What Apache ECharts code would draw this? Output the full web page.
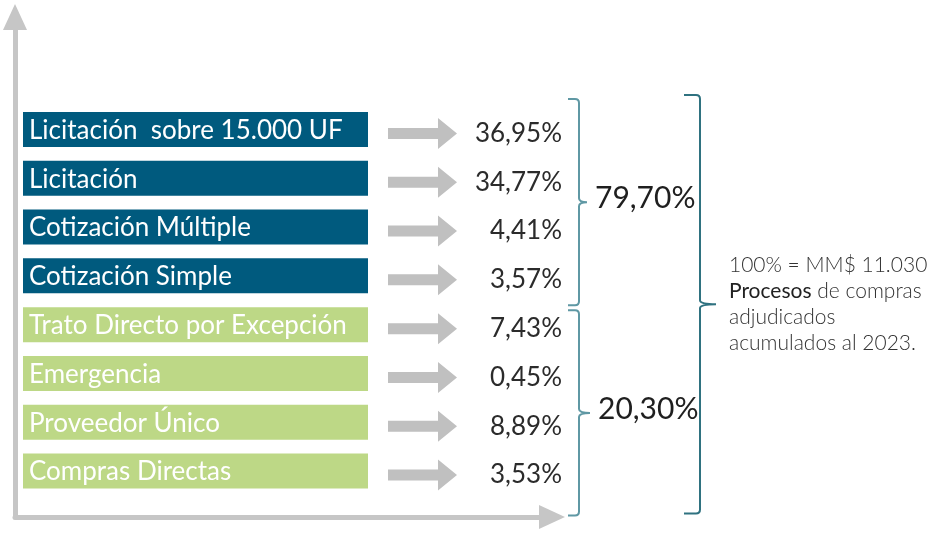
<!DOCTYPE html>
<html>
<head>
<meta charset="utf-8">
<script src="https://cdn.jsdelivr.net/npm/echarts@6/dist/echarts.min.js"></script>
<style>
  html, body { margin: 0; padding: 0; background: #fff; }
  #chart { width: 937px; height: 533px; }
</style>
</head>
<body>
<div id="chart"></div>
<script>
// data
const categories = [
    'Licitación  sobre 15.000 UF',
    'Licitación',
    'Cotización Múltiple',
    'Cotización Simple',
    'Trato Directo por Excepción',
    'Emergencia',
    'Proveedor Único',
    'Compras Directas'
];
const shares = [36.95, 34.77, 4.41, 3.57, 7.43, 0.45, 8.89, 3.53];
const groupOf = [0, 0, 0, 0, 1, 1, 1, 1];
const groupFirst = [0, 4];
const groupLast = [3, 7];
const groupTotals = [79.70, 20.30];
const noteLines = ['100% = MM$ 11.030', '{b|Procesos} de compras', 'adjudicados', 'acumulados al 2023.'];

// styles
const boxColors = ['#005a7e', '#bdd886'];
const arrowColor = '#c0c0c0';
const axisColor = '#c6c6c6';
const textColor = '#2b2b2b';
const bracePad = [[6, 5], [-10, 20]];

function pct(v) {
    return v.toFixed(2).replace('.', ',') + '%';
}

function bracePath(x0, xv, xt, top, bottom) {
    const mid = (top + bottom) / 2, r = 4;
    return 'M' + x0 + ' ' + top +
        ' L' + (xv - r) + ' ' + top +
        ' Q' + xv + ' ' + top + ' ' + xv + ' ' + (top + r) +
        ' L' + xv + ' ' + (mid - r) +
        ' Q' + xv + ' ' + mid + ' ' + xt + ' ' + mid +
        ' Q' + xv + ' ' + mid + ' ' + xv + ' ' + (mid + r) +
        ' L' + xv + ' ' + (bottom - r) +
        ' Q' + xv + ' ' + bottom + ' ' + (xv - r) + ' ' + bottom +
        ' L' + x0 + ' ' + bottom;
}

function renderRow(params, api) {
    const i = params.dataIndex;
    const cy = api.coord([0, api.value(1)])[1];
    const ay = cy + 4;
    const g = groupOf[i];
    return {
        type: 'group',
        children: [
            {
                type: 'rect',
                shape: { x: 23, y: cy - 17.5, width: 345, height: 35 },
                style: { fill: boxColors[g] }
            },
            {
                type: 'text',
                style: {
                    x: 29, y: cy + 1,
                    text: categories[i],
                    fill: '#fff',
                    font: '26px Lato',
                    verticalAlign: 'middle'
                }
            },
            {
                type: 'polygon',
                shape: {
                    points: [
                        [388, ay - 5.5], [438, ay - 5.5], [438, ay - 15.5], [457, ay],
                        [438, ay + 15.5], [438, ay + 5.5], [388, ay + 5.5]
                    ]
                },
                style: { fill: arrowColor }
            },
            {
                type: 'text',
                style: {
                    x: 562, y: ay,
                    text: pct(api.value(0)),
                    fill: textColor,
                    font: '26px Lato',
                    align: 'right',
                    verticalAlign: 'middle'
                }
            }
        ]
    };
}

function renderGroupBrace(params, api) {
    const i = params.dataIndex;
    const half = api.size([0, 1])[1] / 2;
    const top = api.coord([0, api.value(1)])[1] - half - bracePad[i][0];
    const bottom = api.coord([0, api.value(2)])[1] + half + bracePad[i][1];
    const mid = (top + bottom) / 2;
    const xt = 587 + i * 3;
    return {
        type: 'group',
        children: [
            {
                type: 'path',
                shape: { pathData: bracePath(568, 579, xt, top, bottom) },
                style: { fill: 'none', stroke: '#5f98a4', lineWidth: 2 }
            },
            {
                type: 'text',
                style: {
                    x: xt + 8, y: mid - 4,
                    text: pct(api.value(0)),
                    fill: '#1f1f1f',
                    font: '30px Lato',
                    verticalAlign: 'middle'
                }
            }
        ]
    };
}

function renderTotalBrace(params, api) {
    const half = api.size([0, 1])[1] / 2;
    const top = api.coord([0, api.value(1)])[1] - half - 10;
    const bottom = api.coord([0, api.value(2)])[1] + half + 18;
    const mid = (top + bottom) / 2;
    return {
        type: 'group',
        children: [
            {
                type: 'path',
                shape: { pathData: bracePath(684, 700, 716, top, bottom) },
                style: { fill: 'none', stroke: '#2f7280', lineWidth: 2 }
            },
            {
                type: 'text',
                style: {
                    x: 729, y: mid,
                    text: noteLines.join('\n'),
                    fill: '#333',
                    fontFamily: 'Lato',
                    fontSize: 21,
                    fontWeight: 300,
                    lineHeight: 26,
                    verticalAlign: 'middle',
                    rich: {
                        b: { fontFamily: 'Lato', fontSize: 21, fontWeight: 'normal', fill: '#222', lineHeight: 26 }
                    }
                }
            }
        ]
    };
}

const chart = echarts.init(document.getElementById('chart'));

const hiddenAxis = {
    axisTick: { show: false },
    axisLabel: { show: false },
    splitLine: { show: false }
};
const frameLine = {
    show: true,
    symbol: ['none', 'triangle'],
    symbolSize: [24, 26],
    lineStyle: { color: axisColor, width: 5 }
};

const option = {
    animation: false,
    grid: [
        { left: 15, right: 385, top: 17, bottom: 16 },
        { left: 0, right: 0, top: 105, bottom: 37.5 }
    ],
    xAxis: [
        Object.assign({ gridIndex: 0, type: 'value', min: 0, max: 1, axisLine: frameLine }, hiddenAxis),
        { gridIndex: 1, type: 'value', min: 0, max: 100, show: false }
    ],
    yAxis: [
        Object.assign({ gridIndex: 0, type: 'value', min: 0, max: 1, axisLine: frameLine }, hiddenAxis),
        { gridIndex: 1, type: 'category', data: categories, inverse: true, show: false }
    ],
    series: [
        {
            type: 'custom',
            xAxisIndex: 1,
            yAxisIndex: 1,
            encode: { x: 0, y: 1 },
            renderItem: renderRow,
            data: categories.map((c, i) => [shares[i], i])
        },
        {
            type: 'custom',
            xAxisIndex: 1,
            yAxisIndex: 1,
            encode: { x: 0, y: [1, 2] },
            renderItem: renderGroupBrace,
            data: groupTotals.map((t, i) => [t, groupFirst[i], groupLast[i]])
        },
        {
            type: 'custom',
            xAxisIndex: 1,
            yAxisIndex: 1,
            encode: { x: 0, y: [1, 2] },
            renderItem: renderTotalBrace,
            data: [[100, 0, categories.length - 1]]
        }
    ]
};

chart.setOption(option);
window.addEventListener('resize', chart.resize);
</script>
</body>
</html>
